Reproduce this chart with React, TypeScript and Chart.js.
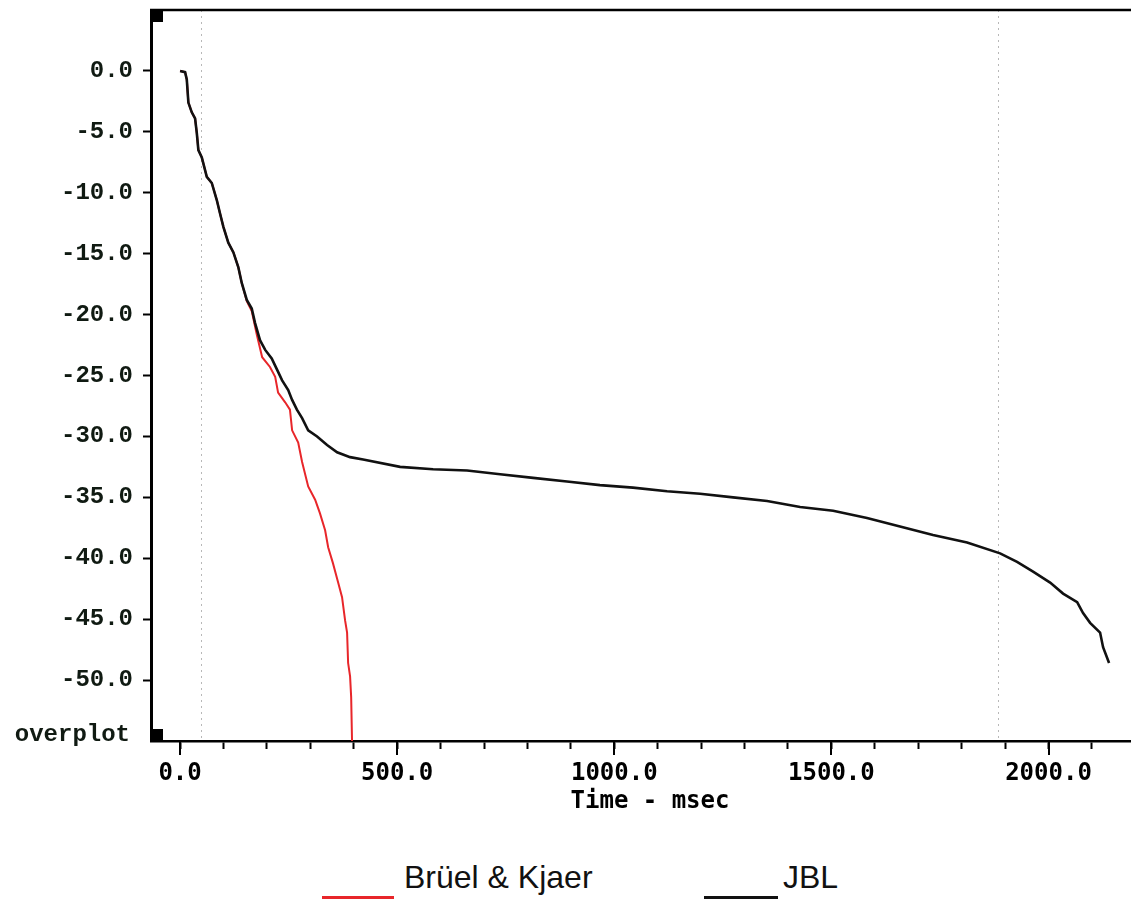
import React, { useEffect, useRef } from "react";
import { Chart, registerables } from "chart.js";

Chart.register(...registerables);

// ---- data (time in msec, level in dB) ----
const jblTime = [0, 11.5, 15.4, 19.1, 26.9, 34.5, 38.5, 42.1, 50, 61.5, 73, 84.5, 92, 99.7, 111, 122.8, 134, 142, 153.6, 165, 172.7, 184, 196, 211, 223, 235, 249, 258, 269, 281, 295, 315.5, 338.5, 361.6, 391.5, 421.5, 506.7, 582.7, 661, 737, 813, 891, 967, 1043, 1121.6, 1197.6, 1273.6, 1351.9, 1428, 1504, 1582, 1658, 1734, 1812.5, 1888.5, 1927.6, 1964.5, 2003.7, 2033.6, 2066, 2079.6, 2095.8, 2118.8, 2125.7, 2139.5];
const jblLevel = [0, -0.1, -0.7, -2.6, -3.4, -3.9, -5.1, -6.5, -7.1, -8.7, -9.2, -10.6, -11.7, -12.8, -14.1, -14.9, -16.1, -17.4, -18.8, -19.5, -20.7, -22.1, -22.9, -23.6, -24.5, -25.4, -26.2, -27.0, -27.8, -28.5, -29.5, -30.0, -30.7, -31.3, -31.7, -31.9, -32.5, -32.7, -32.8, -33.1, -33.4, -33.7, -34.0, -34.2, -34.5, -34.7, -35.0, -35.3, -35.8, -36.1, -36.7, -37.4, -38.1, -38.7, -39.6, -40.3, -41.1, -42.0, -42.9, -43.6, -44.5, -45.3, -46.1, -47.3, -48.6];

const bkTime = [0, 11.5, 15.4, 19.1, 26.9, 34.5, 38.5, 42.1, 50, 61.5, 73, 84.5, 92, 99.7, 111, 122.8, 134, 142, 153.6, 165, 177, 189, 207, 219, 225.7, 242, 253, 258, 272, 281, 295, 311, 322, 334, 341, 352, 364, 373, 380, 384.6, 387, 391.5, 394, 396];
const bkLevel = [0, -0.1, -0.7, -2.6, -3.4, -3.9, -5.1, -6.5, -7.1, -8.7, -9.2, -10.6, -11.7, -12.8, -14.1, -14.9, -16.1, -17.4, -18.9, -19.7, -21.7, -23.5, -24.3, -25.1, -26.4, -27.2, -27.8, -29.5, -30.5, -32.1, -34.1, -35.2, -36.3, -37.7, -39.1, -40.4, -42.0, -43.2, -45.1, -46.1, -48.6, -49.7, -51.4, -55.0];

const yTickValues = [0, -5, -10, -15, -20, -25, -30, -35, -40, -45, -50];
const xTickValues = [0, 100, 200, 300, 400, 500, 600, 700, 800, 900, 1000, 1100, 1200, 1300, 1400, 1500, 1600, 1700, 1800, 1900, 2000, 2100];
const xMajorTicks = [0, 500, 1000, 1500, 2000];
const markerTimes = [48, 1884];

const seriesNames = ["Brüel & Kjaer", "JBL"];
const axisTitle = "Time - msec";
const cornerLabel = "overplot";

const X_MIN = -67;
const X_MAX = 2190;
const Y_MIN = -55;
const Y_MAX = 5;

const CANVAS_W = 1131;
const CANVAS_H = 830;

const decorPlugin = {
  id: "decor",
  beforeDatasetsDraw(chart: any) {
    const { ctx, chartArea: a, scales } = chart;
    const x = scales.x;
    ctx.save();
    ctx.strokeStyle = "#b8b8b8";
    ctx.lineWidth = 1;
    ctx.setLineDash([2, 4]);
    markerTimes.forEach((t) => {
      const px = Math.round(x.getPixelForValue(t)) + 0.5;
      ctx.beginPath();
      ctx.moveTo(px, a.top);
      ctx.lineTo(px, a.bottom);
      ctx.stroke();
    });
    ctx.restore();
  },
  afterDraw(chart: any) {
    const { ctx, chartArea: a, scales } = chart;
    const x = scales.x;
    ctx.save();
    // top border
    ctx.strokeStyle = "#000";
    ctx.lineWidth = 2.5;
    ctx.beginPath();
    ctx.moveTo(a.left - 1, a.top);
    ctx.lineTo(a.right, a.top);
    ctx.stroke();
    // longer major ticks
    ctx.lineWidth = 2;
    xMajorTicks.forEach((t) => {
      const px = Math.round(x.getPixelForValue(t));
      ctx.beginPath();
      ctx.moveTo(px, a.bottom);
      ctx.lineTo(px, a.bottom + 14);
      ctx.stroke();
    });
    // corner squares
    ctx.fillStyle = "#000";
    ctx.fillRect(a.left, a.top, 12, 12);
    ctx.fillRect(a.left, a.bottom - 12, 12, 12);
    // corner label
    ctx.fillStyle = "#101a12";
    ctx.font = "bold 24px 'Liberation Mono'";
    ctx.textAlign = "right";
    ctx.textBaseline = "alphabetic";
    ctx.fillText(cornerLabel, 130, a.bottom);
    // axis title
    ctx.fillStyle = "#000";
    ctx.font = "bold 24px 'DejaVu Sans Mono'";
    ctx.textAlign = "center";
    ctx.fillText(axisTitle, 650, 808);
    ctx.restore();
  },
};

export default function App() {
  const ref = useRef<HTMLCanvasElement | null>(null);

  useEffect(() => {
    document.body.style.margin = "0";
    if (!ref.current) return;
    const chart = new Chart(ref.current, {
      type: "line",
      data: {
        datasets: [
          {
            label: seriesNames[1],
            data: jblTime.map((t, i) => ({ x: t, y: jblLevel[i] })),
            borderColor: "#111",
            borderWidth: 2.6,
            pointRadius: 0,
            tension: 0,
            fill: false,
          },
          {
            label: seriesNames[0],
            data: bkTime.map((t, i) => ({ x: t, y: bkLevel[i] })),
            borderColor: "#e8262a",
            borderWidth: 2,
            pointRadius: 0,
            tension: 0,
            fill: false,
          },
        ],
      },
      options: {
        responsive: false,
        animation: false,
        layout: { padding: { top: 10, right: 0, left: 0, bottom: 0 } },
        plugins: {
          legend: { display: false },
          tooltip: { enabled: false },
          title: { display: false },
        },
        scales: {
          x: {
            type: "linear",
            min: X_MIN,
            max: X_MAX,
            afterBuildTicks: (scale: any) => {
              scale.ticks = xTickValues.map((v) => ({ value: v }));
            },
            afterFit: (scale: any) => {
              scale.height = CANVAS_H - 741;
              scale.paddingLeft = 0;
              scale.paddingRight = 0;
            },
            grid: {
              drawOnChartArea: false,
              drawTicks: true,
              tickLength: 8,
              color: "#000",
              tickColor: "#000",
              tickWidth: 2,
            },
            border: { display: true, color: "#000", width: 2.5 },
            ticks: {
              autoSkip: false,
              maxRotation: 0,
              minRotation: 0,
              padding: 10,
              color: "#000",
              font: { family: "'DejaVu Sans Mono'", weight: "bold", size: 24 },
              callback: (v: any) => (xMajorTicks.includes(Number(v)) ? Number(v).toFixed(1) : ""),
            },
          },
          y: {
            type: "linear",
            min: Y_MIN,
            max: Y_MAX,
            afterBuildTicks: (scale: any) => {
              scale.ticks = yTickValues.map((v) => ({ value: v }));
            },
            afterFit: (scale: any) => {
              scale.width = 151;
              scale.paddingTop = 0;
              scale.paddingBottom = 0;
            },
            grid: {
              drawOnChartArea: false,
              drawTicks: true,
              tickLength: 8,
              color: "#000",
              tickColor: "#000",
              tickWidth: 2,
            },
            border: { display: true, color: "#000", width: 3 },
            ticks: {
              padding: 10,
              color: "#101a12",
              font: { family: "'Liberation Mono'", weight: "bold", size: 24 },
              callback: (v: any) => Number(v).toFixed(1),
            },
          },
        },
      },
      plugins: [decorPlugin],
    } as any);
    return () => chart.destroy();
  }, []);

  const legendText: React.CSSProperties = {
    position: "absolute",
    top: 861,
    fontFamily: "'Liberation Sans', Arial, sans-serif",
    fontSize: 32,
    lineHeight: "32px",
    color: "#111",
    whiteSpace: "nowrap",
  };

  return (
    <div style={{ position: "relative", width: 1131, height: 899, overflow: "hidden", background: "#fff" }}>
      <canvas ref={ref} width={CANVAS_W} height={CANVAS_H} style={{ display: "block", width: CANVAS_W, height: CANVAS_H }} />
      <div style={{ position: "absolute", left: 322, top: 896, width: 72, height: 3, background: "#e8262a" }} />
      <span style={{ ...legendText, left: 404 }}>{seriesNames[0]}</span>
      <div style={{ position: "absolute", left: 704, top: 896, width: 74, height: 3, background: "#111" }} />
      <span style={{ ...legendText, left: 783 }}>{seriesNames[1]}</span>
    </div>
  );
}
